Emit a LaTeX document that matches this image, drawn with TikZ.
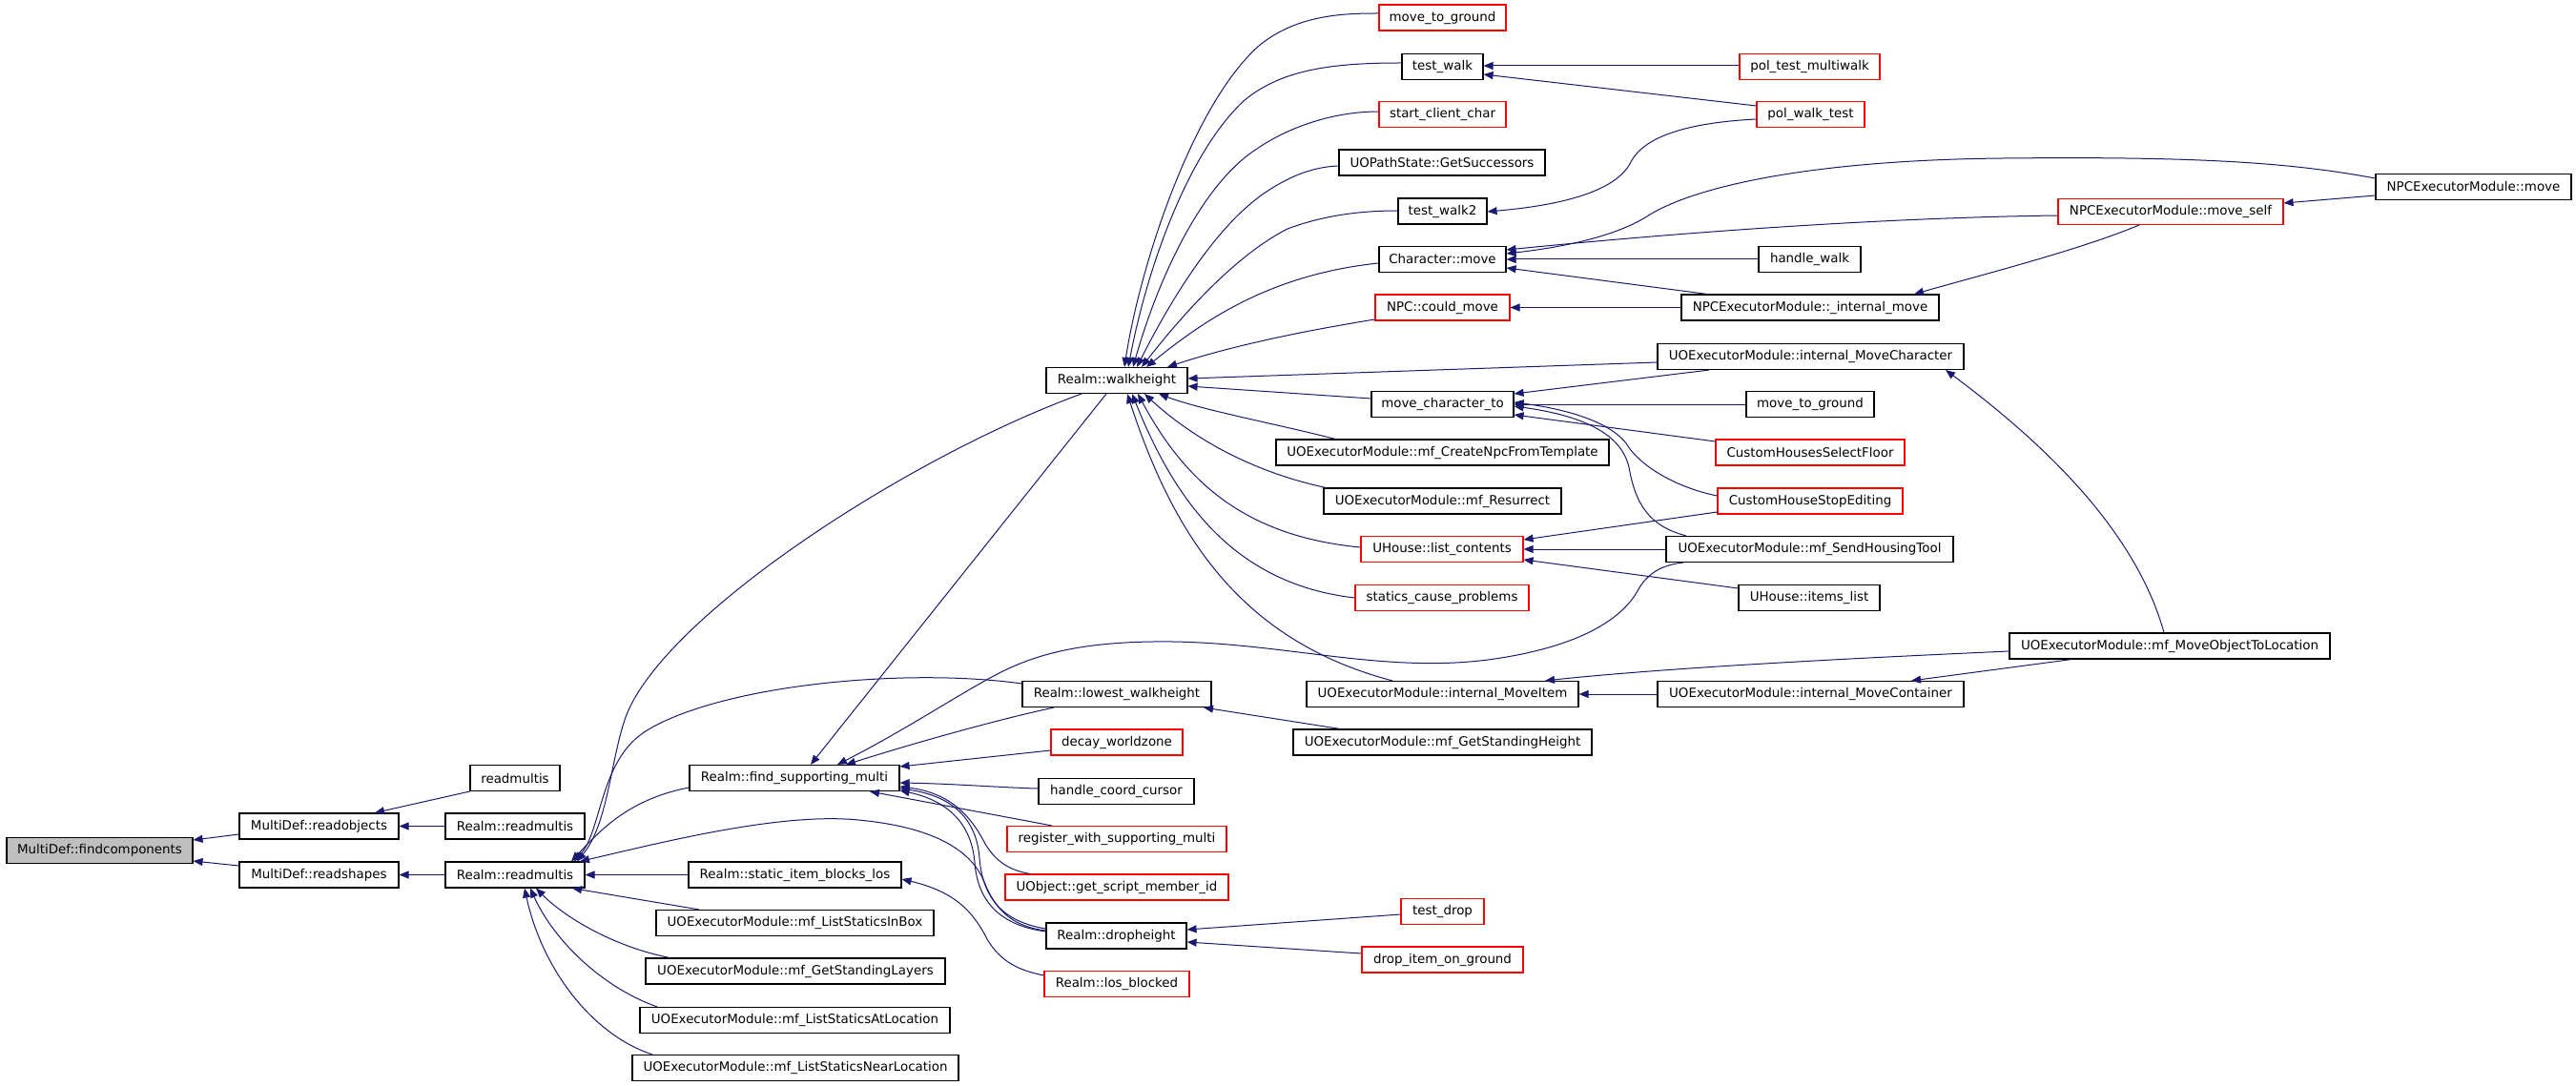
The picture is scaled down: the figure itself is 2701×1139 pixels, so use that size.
\documentclass[tikz,border=0pt]{standalone}
\usepackage{fontspec}
\usetikzlibrary{arrows.meta}
\newfontfamily\fnfont{DejaVu Sans}
\definecolor{edgeblue}{HTML}{191970}
\definecolor{rootgray}{HTML}{BFBFBF}
\tikzset{
  fn/.style={draw=black, line width=1.1pt, rectangle, inner sep=0pt, minimum height=27pt,
    fill=white, text=black, font={\fnfont\fontsize{13.4pt}{16pt}\selectfont}},
  redfn/.style={fn, draw=red},
  edge/.style={draw=edgeblue, line width=1pt, {Triangle[length=10pt,width=8pt]}-},
}
\begin{document}
\begin{tikzpicture}[x=1pt,y=-1pt]
\useasboundingbox[fill=white] (0,0) rectangle (2701,1139);
% column 0-2
\node[fn, fill=rootgray, minimum width=195pt] (fc) at (104.5,892) {MultiDef::findcomponents};
\node[fn, minimum width=167pt] (ro) at (334.5,866.5) {MultiDef::readobjects};
\node[fn, minimum width=167pt] (rs) at (334.5,917.5) {MultiDef::readshapes};
\node[fn, minimum width=94pt] (rm0) at (540,816) {readmultis};
\node[fn, minimum width=146pt] (rrm1) at (540,866.5) {Realm::readmultis};
\node[fn, minimum width=146pt] (rrm2) at (540,917.5) {Realm::readmultis};
% column 3
\node[fn, minimum width=220pt] (fsm) at (833,816) {Realm::find\_supporting\_multi};
\node[fn, minimum width=223pt] (sibl) at (833.5,917.5) {Realm::static\_item\_blocks\_los};
\node[fn, minimum width=291pt] (lsib) at (833.5,968) {UOExecutorModule::mf\_ListStaticsInBox};
\node[fn, minimum width=314pt] (gsl) at (834,1018.5) {UOExecutorModule::mf\_GetStandingLayers};
\node[fn, minimum width=325pt] (lsal) at (833.5,1070) {UOExecutorModule::mf\_ListStaticsAtLocation};
\node[fn, minimum width=342pt] (lsnl) at (834,1120) {UOExecutorModule::mf\_ListStaticsNearLocation};
% column 4
\node[fn, minimum width=148pt] (wh) at (1171,399) {Realm::walkheight};
\node[fn, minimum width=198pt] (lwh) at (1171,728) {Realm::lowest\_walkheight};
\node[redfn, minimum width=138pt] (dwz) at (1171,778.5) {decay\_worldzone};
\node[fn, minimum width=163pt] (hcc) at (1170.5,830) {handle\_coord\_cursor};
\node[redfn, minimum width=230pt] (rwsm) at (1171,880) {register\_with\_supporting\_multi};
\node[redfn, minimum width=234pt] (gsmi) at (1171,930.5) {UObject::get\_script\_member\_id};
\node[fn, minimum width=147pt] (dh) at (1170.5,981.5) {Realm::dropheight};
\node[redfn, minimum width=152pt] (lb) at (1171,1032) {Realm::los\_blocked};
% column 5
\node[redfn, minimum width=133pt] (mtg1) at (1512.5,18.5) {move\_to\_ground};
\node[fn, minimum width=85pt] (tw) at (1512.5,70) {test\_walk};
\node[redfn, minimum width=133pt] (scc) at (1512.5,120) {start\_client\_char};
\node[fn, minimum width=216pt] (gs) at (1512,170.5) {UOPathState::GetSuccessors};
\node[fn, minimum width=93pt] (tw2) at (1512.5,221.5) {test\_walk2};
\node[fn, minimum width=133pt] (cm) at (1512.5,272) {Character::move};
\node[redfn, minimum width=141pt] (ncm) at (1512.5,322.5) {NPC::could\_move};
\node[fn, minimum width=149pt] (mct) at (1512.5,424) {move\_character\_to};
\node[fn, minimum width=349pt] (cnft) at (1512.5,474.5) {UOExecutorModule::mf\_CreateNpcFromTemplate};
\node[fn, minimum width=249pt] (res) at (1512.5,525.5) {UOExecutorModule::mf\_Resurrect};
\node[redfn, minimum width=170pt] (ulc) at (1512,576) {UHouse::list\_contents};
\node[redfn, minimum width=182pt] (scp) at (1512,627) {statics\_cause\_problems};
\node[fn, minimum width=285pt] (imi) at (1512.5,728) {UOExecutorModule::internal\_MoveItem};
\node[fn, minimum width=313pt] (gsh) at (1512.5,778.5) {UOExecutorModule::mf\_GetStandingHeight};
\node[redfn, minimum width=87pt] (td) at (1512.5,956) {test\_drop};
\node[redfn, minimum width=169pt] (dig) at (1512.5,1006.5) {drop\_item\_on\_ground};
% column 6
\node[redfn, minimum width=147pt] (ptm) at (1897.5,70) {pol\_test\_multiwalk};
\node[redfn, minimum width=113pt] (pwt) at (1898.5,120) {pol\_walk\_test};
\node[fn, minimum width=107pt] (hw) at (1897.5,272) {handle\_walk};
\node[fn, minimum width=270pt] (nim) at (1898,322.5) {NPCExecutorModule::\_internal\_move};
\node[fn, minimum width=321pt] (imc) at (1898.5,374) {UOExecutorModule::internal\_MoveCharacter};
\node[fn, minimum width=134pt] (mtg2) at (1898,424) {move\_to\_ground};
\node[redfn, minimum width=198pt] (chsf) at (1898,474.5) {CustomHousesSelectFloor};
\node[redfn, minimum width=194pt] (chse) at (1898,525.5) {CustomHouseStopEditing};
\node[fn, minimum width=301pt] (sht) at (1897.5,576) {UOExecutorModule::mf\_SendHousingTool};
\node[fn, minimum width=148pt] (hil) at (1897,627) {UHouse::items\_list};
\node[fn, minimum width=321pt] (imcon) at (1898.5,728) {UOExecutorModule::internal\_MoveContainer};
% column 7-8
\node[redfn, minimum width=236pt] (nems) at (2276,222) {NPCExecutorModule::move\_self};
\node[fn, minimum width=336pt] (motl) at (2275,677.5) {UOExecutorModule::mf\_MoveObjectToLocation};
\node[fn, minimum width=205pt] (nem) at (2593.5,196) {NPCExecutorModule::move};

% edges
\draw[edge] (fc.east |- 0,881) -- (ro.west |- 0,875);
\draw[edge] (fc.east |- 0,903) -- (rs.west |- 0,908);
\draw[edge] (ro.north -| 393,0) -- (rm0.south west);
\draw[edge] (ro) -- (rrm1);
\draw[edge] (rs) -- (rrm2);
\draw[edge] (rrm2.north -| 605,0) .. controls (637,865) and (640,800) .. (655,755) .. controls (690,650) and (950,480) .. (wh.south -| 1134,0);
\draw[edge] (rrm2.north -| 602,0) .. controls (632,870) and (628,795) .. (680,765) .. controls (760,718) and (950,700) .. (lwh.west |- 0,717);
\draw[edge] (rrm2.north -| 599,0) .. controls (630,870) and (660,838) .. (fsm.west |- 0,826);
\draw[edge] (rrm2.north -| 608,0) .. controls (700,882) and (820,852) .. (900,860) .. controls (985,868) and (1020,895) .. (1032,925) .. controls (1045,958) and (1065,972) .. (dh.west |- 0,976);
\draw[edge] (rrm2) -- (sibl);
\draw[edge] (rrm2.south -| 600,0) -- (lsib.north -| 733,0);
\draw[edge] (rrm2.south -| 562,0) .. controls (590,960) and (640,992) .. (gsl.north -| 702,0);
\draw[edge] (rrm2.south -| 556,0) .. controls (580,985) and (630,1035) .. (lsal.north -| 689,0);
\draw[edge] (rrm2.south -| 550,0) .. controls (568,1015) and (620,1085) .. (lsnl.north -| 684,0);
% into walkheight
\draw[edge] (wh.north -| 1179,0) .. controls (1195,280) and (1250,110) .. (1320,48) .. controls (1360,15) and (1410,14) .. (mtg1.west |- 0,14);
\draw[edge] (wh.north -| 1183,0) .. controls (1205,270) and (1250,155) .. (1305,105) .. controls (1345,72) and (1400,66) .. (tw.west |- 0,66);
\draw[edge] (wh.north -| 1188,0) .. controls (1215,290) and (1260,195) .. (1315,158) .. controls (1352,132) and (1400,117) .. (scc.west |- 0,117);
\draw[edge] (wh.north -| 1192,0) .. controls (1230,310) and (1275,238) .. (1325,203) .. controls (1350,186) and (1375,175) .. (gs.west |- 0,174);
\draw[edge] (wh.north -| 1197,0) .. controls (1240,330) and (1295,268) .. (1350,240) .. controls (1390,225) and (1430,221) .. (tw2.west |- 0,221);
\draw[edge] (wh.north -| 1202,0) .. controls (1260,338) and (1330,288) .. (cm.west |- 0,276);
\draw[edge] (wh.north -| 1224,0) .. controls (1300,360) and (1380,345) .. (ncm.west |- 0,335);
\draw[edge] (wh.east |- 0,397) -- (imc.west |- 0,380);
\draw[edge] (wh.east |- 0,405) -- (mct.west |- 0,418);
\draw[edge] (wh.south -| 1215,0) .. controls (1260,430) and (1340,445) .. (cnft.north -| 1400,0);
\draw[edge] (wh.south -| 1200,0) .. controls (1240,450) and (1300,492) .. (res.north -| 1390,0);
\draw[edge] (wh.south -| 1193,0) .. controls (1240,500) and (1300,562) .. (ulc.west |- 0,574);
\draw[edge] (wh.south -| 1187,0) .. controls (1230,520) and (1290,612) .. (scp.west |- 0,627);
\draw[edge] (wh.south -| 1182,0) .. controls (1230,560) and (1300,672) .. (imi.north -| 1460,0);
% into find_supporting_multi
\draw[edge] (fsm.north -| 850,0) -- (wh.south -| 1160,0);
\draw[edge] (fsm.north -| 878,0) .. controls (960,760) and (1020,718) .. (1060,700) .. controls (1100,682) and (1150,672) .. (1230,673) .. controls (1350,675) and (1450,706) .. (1560,692) .. controls (1650,680) and (1700,652) .. (1718,618) .. controls (1728,600) and (1745,592) .. (sht.south -| 1765,0);
\draw[edge] (fsm.north -| 887,0) .. controls (950,782) and (1040,756) .. (lwh.south -| 1105,0);
\draw[edge] (fsm.east |- 0,804) -- (dwz.west |- 0,787);
\draw[edge] (fsm.east |- 0,821) .. controls (1000,822) and (1050,826) .. (hcc.west |- 0,827);
\draw[edge] (fsm.south -| 912,0) -- (rwsm.north -| 1103,0);
\draw[edge] (fsm.east |- 0,825) .. controls (1000,832) and (1020,860) .. (1033,885) .. controls (1045,905) and (1060,913) .. (gsmi.north -| 1080,0);
\draw[edge] (fsm.east |- 0,827) .. controls (1000,835) and (1024,860) .. (1027,900) .. controls (1031,950) and (1060,968) .. (dh.west |- 0,974);
\draw[edge] (fsm.east |- 0,829) .. controls (995,840) and (1019,865) .. (1022,905) .. controls (1026,955) and (1060,972) .. (dh.west |- 0,977);
\draw[edge] (sibl.east |- 0,922) .. controls (1000,935) and (1020,955) .. (1035,985) .. controls (1050,1010) and (1070,1018) .. (lb.west |- 0,1023);
\draw[edge] (lwh.south -| 1262,0) -- (gsh.north -| 1405,0);
\draw[edge] (dh.east |- 0,975) -- (td.west |- 0,959);
\draw[edge] (dh.east |- 0,988) -- (dig.west |- 0,1000);
% right part
\draw[edge] (tw.east |- 0,69) -- (ptm.west |- 0,69);
\draw[edge] (tw.east |- 0,78) -- (pwt.west |- 0,111);
\draw[edge] (tw2.east |- 0,222) .. controls (1640,215) and (1695,200) .. (1710,170) .. controls (1725,140) and (1780,128) .. (pwt.west |- 0,125);
\draw[edge] (cm.east |- 0,266) .. controls (1650,258) and (1700,245) .. (1730,225) .. controls (1780,195) and (1900,168) .. (2100,166) .. controls (2300,164) and (2400,170) .. (nem.west |- 0,187);
\draw[edge] (cm.east |- 0,262) .. controls (1800,240) and (2000,228) .. (nems.west |- 0,226);
\draw[edge] (cm) -- (hw);
\draw[edge] (cm.east |- 0,281) -- (nim.north -| 1790,0);
\draw[edge] (ncm) -- (nim);
\draw[edge] (nems.east |- 0,213) -- (nem.west |- 0,205);
\draw[edge] (nim.north -| 2007,0) .. controls (2090,285) and (2180,262) .. (nems.south -| 2243,0);
\draw[edge] (mct.east |- 0,413) -- (imc.south -| 1792,0);
\draw[edge] (mct) -- (mtg2);
\draw[edge] (mct.east |- 0,435) -- (chsf.west |- 0,463);
\draw[edge] (mct.east |- 0,422) .. controls (1650,430) and (1690,445) .. (1705,465) .. controls (1720,490) and (1760,512) .. (chse.west |- 0,520);
\draw[edge] (mct.east |- 0,426) .. controls (1660,436) and (1700,455) .. (1708,490) .. controls (1715,530) and (1730,552) .. (sht.north -| 1768,0);
\draw[edge] (ulc.east |- 0,566) -- (chse.west |- 0,537);
\draw[edge] (ulc) -- (sht);
\draw[edge] (ulc.east |- 0,587) -- (hil.west |- 0,617);
\draw[edge] (imc.south -| 2040,0) .. controls (2150,470) and (2240,560) .. (motl.north -| 2269,0);
\draw[edge] (imi.north -| 1620,0) .. controls (1750,700) and (1950,690) .. (motl.west |- 0,683);
\draw[edge] (imi) -- (imcon);
\draw[edge] (imcon.north -| 2004,0) -- (motl.south -| 2172,0);
\end{tikzpicture}
\end{document}
